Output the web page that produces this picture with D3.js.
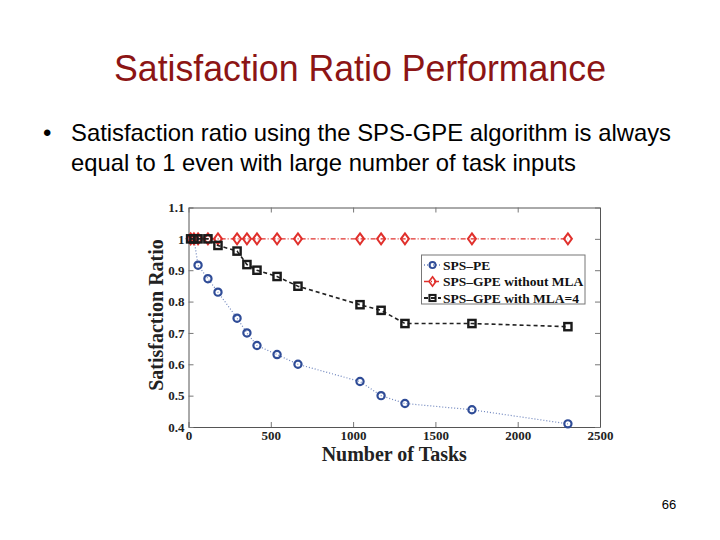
<!DOCTYPE html>
<html>
<head>
<meta charset="utf-8">
<script src="https://cdn.jsdelivr.net/npm/d3@7"></script>
<style>
  body { margin: 0; background: #fff; }
  .slide { font-family: "Liberation Sans", Arial, sans-serif; }
  .chart text { font-family: "Liberation Serif", "Times New Roman", serif; font-weight: bold; }
  .axis path, .axis line { stroke: #777; }
  .axis text { fill: #222; font-size: 13px; }
</style>
</head>
<body>
<svg id="slide" width="720" height="540"></svg>
<script>
// slide texts
var title = "Satisfaction Ratio Performance";
var bulletLines = ["Satisfaction ratio using the SPS-GPE algorithm is always",
                   "equal to 1 even with large number of task inputs"];
var pageNumber = "66";

// chart data
var tasks = [13, 33, 58, 118, 179, 295, 355, 416, 538, 665, 1042, 1170, 1315, 1722, 2305];
var spsPE = [1, 1, 0.916, 0.873, 0.83, 0.747, 0.70, 0.66, 0.631, 0.60, 0.545, 0.50, 0.475, 0.455, 0.41];
var gpeNoMLA = [1, 1, 1, 1, 1, 1, 1, 1, 1, 1, 1, 1, 1, 1, 1];
var gpeMLA4 = [1, 1, 1, 1, 0.979, 0.961, 0.918, 0.90, 0.88, 0.849, 0.79, 0.772, 0.73, 0.73, 0.72];
var seriesNames = ["SPS\u2013PE", "SPS\u2013GPE without MLA", "SPS\u2013GPE with MLA=4"];
var xTicks = [0, 500, 1000, 1500, 2000, 2500];
var yTicks = [0.4, 0.5, 0.6, 0.7, 0.8, 0.9, 1, 1.1];

var svg = d3.select("#slide");

// title + bullets
svg.append("text")
    .attr("class", "slide")
    .attr("x", 360).attr("y", 81)
    .attr("text-anchor", "middle")
    .attr("textLength", 492).attr("lengthAdjust", "spacingAndGlyphs")
    .style("font-size", "36px")
    .style("fill", "#8c1515")
    .text(title);

svg.append("text")
    .attr("class", "slide")
    .attr("x", 43).attr("y", 141)
    .style("font-size", "24px")
    .text("\u2022");

var lineWidths = [600, 505];
svg.selectAll(".bullet")
    .data(bulletLines)
    .enter().append("text")
    .attr("class", "slide bullet")
    .attr("x", 71)
    .attr("y", function (d, i) { return 141 + i * 30; })
    .attr("textLength", function (d, i) { return lineWidths[i]; })
    .attr("lengthAdjust", "spacingAndGlyphs")
    .style("font-size", "24px")
    .style("fill", "#000")
    .text(function (d) { return d; });

svg.append("text")
    .attr("class", "slide")
    .attr("x", 669).attr("y", 509)
    .attr("text-anchor", "middle")
    .style("font-size", "13px")
    .text(pageNumber);

// chart
var plotL = 188.5, plotR = 600, plotT = 207.5, plotB = 427;

var x = d3.scaleLinear().domain([0, 2500]).range([plotL, plotR]);
var y = d3.scaleLinear().domain([0.4, 1.1]).range([plotB, plotT]);

var chart = svg.append("g").attr("class", "chart");

chart.append("rect")
    .attr("x", plotL).attr("y", plotT)
    .attr("width", plotR - plotL).attr("height", plotB - plotT)
    .style("fill", "#fff");

var fmt = function (d) { return d === 1 ? "1" : d3.format(".1f")(d); };

chart.append("g")
    .attr("class", "axis")
    .attr("transform", "translate(0," + plotB + ")")
    .call(d3.axisBottom(x).tickValues(xTicks).tickFormat(d3.format("d")).tickSizeInner(-5).tickSizeOuter(0).tickPadding(4));

chart.append("g")
    .attr("class", "axis")
    .attr("transform", "translate(" + plotL + ",0)")
    .call(d3.axisLeft(y).tickValues(yTicks).tickFormat(fmt).tickSizeInner(-5).tickSizeOuter(0).tickPadding(4));

chart.append("g")
    .attr("class", "axis")
    .attr("transform", "translate(0," + plotT + ")")
    .call(d3.axisTop(x).tickValues(xTicks).tickFormat("").tickSizeInner(-5).tickSizeOuter(0));

chart.append("g")
    .attr("class", "axis")
    .attr("transform", "translate(" + plotR + ",0)")
    .call(d3.axisRight(y).tickValues(yTicks).tickFormat("").tickSizeInner(-5).tickSizeOuter(0));

chart.selectAll(".axis .domain").style("stroke", "#555");

// series
var series = [
  { name: seriesNames[0], values: spsPE, color: "#6d84bd", mark: "#2f4c97", dash: "1,2", width: 1.2, shape: "circle" },
  { name: seriesNames[1], values: gpeNoMLA, color: "#e0302c", mark: "#e0302c", dash: "5,2,1,2", width: 1.2, shape: "diamond" },
  { name: seriesNames[2], values: gpeMLA4, color: "#222", mark: "#1a1a1a", dash: "4,3", width: 1.6, shape: "square" }
];

var line = d3.line()
    .x(function (d) { return x(d[0]); })
    .y(function (d) { return y(d[1]); });

function drawMark(g, shape, color, cx, cy, s) {
  if (shape === "circle") {
    g.append("circle").attr("cx", cx).attr("cy", cy).attr("r", 3.6 * s)
      .style("fill", "none").style("stroke", color).style("stroke-width", 2.2 * s);
  } else if (shape === "diamond") {
    var w = 4 * s, h = 5.5 * s;
    g.append("path")
      .attr("d", "M" + cx + "," + (cy - h) + "L" + (cx + w) + "," + cy + "L" + cx + "," + (cy + h) + "L" + (cx - w) + "," + cy + "Z")
      .style("fill", "none").style("stroke", color).style("stroke-width", 2 * s);
  } else {
    var a = 3.6 * s;
    g.append("rect").attr("x", cx - a).attr("y", cy - a).attr("width", 2 * a).attr("height", 2 * a)
      .style("fill", "none").style("stroke", color).style("stroke-width", 2.4 * s);
  }
}

series.forEach(function (s) {
  var pts = tasks.map(function (t, i) { return [t, s.values[i]]; });
  var g = chart.append("g");
  g.append("path")
      .datum(pts)
      .attr("d", line)
      .style("fill", "none")
      .style("stroke", s.color)
      .style("stroke-width", s.width)
      .style("stroke-dasharray", s.dash);
  pts.forEach(function (p) { drawMark(g, s.shape, s.mark, x(p[0]), y(p[1]), 1); });
});

// legend
var legend = chart.append("g");
legend.append("rect")
    .attr("x", 421.5).attr("y", 255)
    .attr("width", 163.5).attr("height", 49)
    .style("fill", "#fff").style("stroke", "#777").style("stroke-width", 1);

series.forEach(function (s, i) {
  var ly = 265 + i * 16.5;
  legend.append("line")
      .attr("x1", 424).attr("x2", 441).attr("y1", ly).attr("y2", ly)
      .style("stroke", s.color).style("stroke-width", s.width + 0.4)
      .style("stroke-dasharray", s.dash);
  drawMark(legend, s.shape, s.mark, 432.5, ly, 0.85);
  legend.append("text")
      .attr("x", 443).attr("y", ly)
      .attr("dy", "0.35em")
      .style("font-size", "13.5px")
      .style("fill", "#111")
      .text(s.name);
});

// axis labels
chart.append("text")
    .attr("x", (plotL + plotR) / 2).attr("y", 461)
    .attr("text-anchor", "middle")
    .style("font-size", "20px")
    .style("fill", "#222")
    .text("Number of Tasks");

chart.append("text")
    .attr("transform", "translate(163," + 315 + ") rotate(-90)")
    .attr("text-anchor", "middle")
    .style("font-size", "20px")
    .style("fill", "#222")
    .text("Satisfaction Ratio");
</script>
</body>
</html>
